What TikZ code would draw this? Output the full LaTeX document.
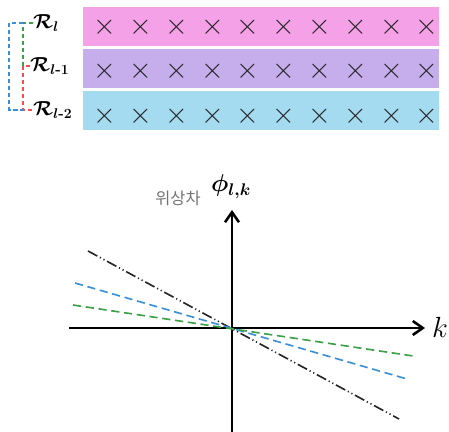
\documentclass[tikz,border=0pt]{standalone}
\usepackage{amsmath}
\usepackage{bm}
\usepackage{fontspec}
\usepackage{tikz}
\usetikzlibrary{positioning, calc, arrows.meta}
\newfontfamily\krfont{Noto Sans CJK KR}
\definecolor{rowpink}{HTML}{F5A1E8}
\definecolor{rowpurple}{HTML}{C6AEEC}
\definecolor{rowblue}{HTML}{A4DBF0}
\definecolor{lnblue}{HTML}{3A90D8}
\definecolor{lngreen}{HTML}{3BA046}
\definecolor{lnred}{HTML}{F05050}

\begin{document}
\begin{tikzpicture}[x=0.03cm, y=-0.03cm,
          rowbox/.style={rectangle, inner sep=0, minimum width=10.68cm, minimum height=1.17cm},
          cross/.style={inner sep=0, text=black!85, font=\fontsize{26}{26}\selectfont},
          lab/.style={inner sep=0, anchor=west, font=\fontsize{18}{18}\selectfont},
          link/.style={line width=1.2pt, dash pattern=on 3.5pt off 2.5pt},
          axis/.style={line width=2.2pt, -{Straight Barb[length=3mm,width=4.2mm,line width=2.2pt]}},
          phase/.style={line width=1.4pt, dash pattern=on 7pt off 4pt}]
          \useasboundingbox (0,0) rectangle (449,432);

          % rows of received symbols
          \node[rowbox, fill=rowpink] (rowL) at (261,26.5) {};
          \node[rowbox, fill=rowpurple] (rowL1) at (261,69) {};
          \node[rowbox, fill=rowblue] (rowL2) at (261,111) {};
          \foreach \i in {0,...,9} {
            \node[cross] (xa\i) at (105+35.8*\i,27) {$\times$};
            \node[cross] (xb\i) at (105+35.8*\i,71) {$\times$};
            \node[cross] (xc\i) at (105+35.8*\i,116) {$\times$};
          }

          \node[lab] (labL) at (33,23) {$\bm{\mathcal{R}_{l}}$};
          \node[lab] (labL1) at (30,66) {$\bm{\mathcal{R}_{l\textbf{-}1}}$};
          \node[lab] (labL2) at (33,110) {$\bm{\mathcal{R}_{l\textbf{-}2}}$};

          \draw[link, lngreen] (labL.west) -- ++(-10,0) |- (labL1.west);
          \draw[link, lnred] (labL1.west) -- ++(-7,0) |- (labL2.west);
          \draw[link, lnblue] ($(labL.west)+(-10,0)$) -- ++(-14,0) |- ($(labL2.west)+(-10,0)$);

          % phase axes
          \coordinate (O) at (232,328);
          \coordinate (xleft) at (69,328);
          \coordinate (xtip) at (425,328);
          \coordinate (ybot) at (232,432);
          \coordinate (ytip) at (232,210);
          \draw[axis] (xleft) -- (xtip);
          \draw[axis] (ybot) -- (ytip);
          \node[inner sep=0, font=\fontsize{26}{26}\selectfont] (k) at (440,327) {$k$};
          \node[inner sep=0, font=\fontsize{21}{21}\selectfont] (phi) at (231,187) {$\bm{\phi_{l,k}}$};
          \node[inner sep=0, text=black!55, font=\krfont\fontsize{14}{14}\selectfont] (phdiff) at (178,198) {위상차};

          % phase slopes
          \coordinate (ka) at (88,251);
          \coordinate (kb) at (399,419);
          \coordinate (ba) at (75,283);
          \coordinate (bb) at (407,379);
          \coordinate (ga) at (73,305);
          \coordinate (gb) at (413,356);
          \draw[line width=1.4pt, black!85, dash pattern=on 9pt off 2.5pt on 1pt off 2.5pt on 1pt off 2.5pt] (ka) -- (kb);
          \draw[phase, lnblue] (ba) -- (bb);
          \draw[phase, lngreen] (ga) -- (gb);
        \end{tikzpicture}
\end{document}
